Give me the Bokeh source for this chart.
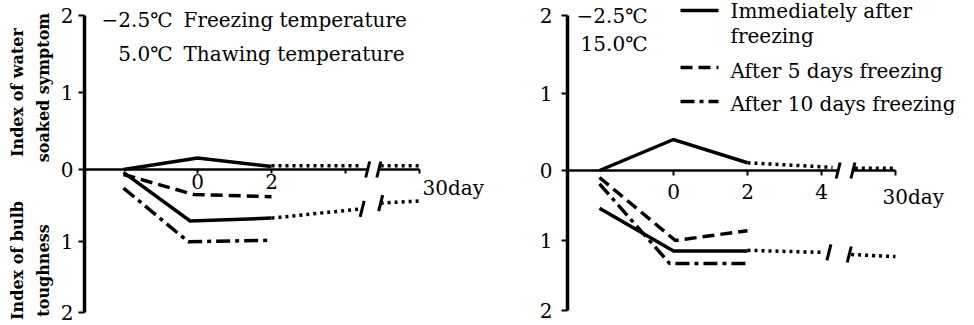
import math
from bokeh.plotting import figure
from bokeh.models import LinearAxis, FixedTicker, Label, Range1d
from bokeh.layouts import row
from bokeh.embed import file_html
from bokeh.resources import INLINE

# ---------------------------------------------------------------- data
# x: days after thawing; day 30 is drawn at position 6, beyond the axis break.
# Water-soaked index is plotted upward, bulb toughness index downward
# (toughness uses its own, inverted y range).
soak_ticks = [0, 1, 2]
tough_ticks = [1, 2]
DAY30_POS = 6

# Left panel: -2.5 C freezing, 5.0 C thawing
left_tick_days = [0, 2, 4]
left_tick_labels = ["0", "2", ""]
left_soak_imm_x = [-2, 0, 2]
left_soak_imm_y = [0.0, 0.15, 0.04]
left_soak_tail1_x = [2, 4.45]
left_soak_tail1_y = [0.05, 0.05]
left_soak_tail2_x = [4.95, 6]
left_soak_tail2_y = [0.05, 0.05]
left_tough_imm_x = [-2, -0.2, 2]
left_tough_imm_y = [0.04, 0.72, 0.68]
left_tough_tail1_x = [2, 4.45]
left_tough_tail1_y = [0.68, 0.55]
left_tough_tail2_x = [4.95, 6]
left_tough_tail2_y = [0.47, 0.44]
left_tough_5d_x = [-2, -0.1, 2]
left_tough_5d_y = [0.07, 0.35, 0.38]
left_tough_10d_x = [-2, -0.25, 2]
left_tough_10d_y = [0.26, 1.01, 0.99]

# Right panel: -2.5 C freezing, 15.0 C thawing
right_tick_days = [0, 2, 4]
right_tick_labels = ["0", "2", "4"]
right_soak_imm_x = [-2, 0, 2]
right_soak_imm_y = [0.0, 0.40, 0.10]
right_soak_tail1_x = [2, 4.3]
right_soak_tail1_y = [0.10, 0.04]
right_soak_tail2_x = [4.9, 6]
right_soak_tail2_y = [0.03, 0.03]
right_tough_imm_x = [-2, 0, 2]
right_tough_imm_y = [0.54, 1.15, 1.15]
right_tough_tail1_x = [2, 4.0]
right_tough_tail1_y = [1.14, 1.17]
right_tough_tail2_x = [4.8, 6]
right_tough_tail2_y = [1.20, 1.23]
right_tough_5d_x = [-2, 0.05, 2]
right_tough_5d_y = [0.10, 1.00, 0.86]
right_tough_10d_x = [-2, -0.1, 2]
right_tough_10d_y = [0.19, 1.33, 1.33]

# ---------------------------------------------------------------- layout
W, H = 487, 325
PX_DAY = 37.0
FONT = "DejaVu Serif"
INK = "black"

SOLID = dict(line_width=3.5, line_color=INK, line_join="miter")
DOTTED = dict(line_width=3.5, line_color=INK, line_dash="3 4")
DASHED = dict(line_width=3.5, line_color=INK, line_dash="12 6")
DASHDOT = dict(line_width=3.5, line_color=INK, line_dash="14 5 4 5")


def make_panel(zero_px, zero_py, up_px, down_px, yaxis_px, breaks, tick_days,
               tick_labels, xtick_out, xlab_standoff, ylab_standoff):
    p = figure(width=W, height=H,
               x_range=Range1d(-zero_px / PX_DAY, (W - zero_px) / PX_DAY),
               y_range=Range1d(-(H - zero_py) / up_px, zero_py / up_px),
               x_axis_type=None, y_axis_type=None,
               toolbar_location=None, output_backend="svg", min_border=0,
               outline_line_color=None, background_fill_color="white",
               border_fill_color="white")
    # toughness grows downward from the same zero line
    p.extra_y_ranges = {"tough": Range1d((H - zero_py) / down_px, -zero_py / down_px)}
    yaxis_x = (yaxis_px - zero_px) / PX_DAY
    common = dict(axis_line_color=INK, major_tick_line_color=INK,
                  minor_tick_line_color=None, major_tick_in=0,
                  major_label_text_font=FONT, major_label_text_font_size="20px",
                  major_label_text_color=INK)
    yax_up = LinearAxis(fixed_location=yaxis_x, bounds=(0, 2),
                        ticker=FixedTicker(ticks=soak_ticks),
                        axis_line_width=3.5, major_tick_line_width=2,
                        major_tick_out=6, major_label_standoff=ylab_standoff, **common)
    p.add_layout(yax_up, "left")
    yax_dn = LinearAxis(y_range_name="tough", fixed_location=yaxis_x, bounds=(0, 2),
                        ticker=FixedTicker(ticks=tough_ticks),
                        axis_line_width=3.5, major_tick_line_width=2,
                        major_tick_out=6, major_label_standoff=ylab_standoff, **common)
    p.add_layout(yax_dn, "left")
    xa = LinearAxis(fixed_location=0, bounds=(yaxis_x, breaks[0]),
                    ticker=FixedTicker(ticks=tick_days),
                    major_label_overrides=dict(zip(tick_days, tick_labels)),
                    axis_line_width=2.5, major_tick_line_width=2,
                    major_tick_out=xtick_out, major_label_standoff=xlab_standoff, **common)
    p.add_layout(xa, "below")
    xb = LinearAxis(fixed_location=0, bounds=(breaks[1], DAY30_POS),
                    ticker=FixedTicker(ticks=[DAY30_POS]),
                    major_label_overrides={DAY30_POS: ""},
                    axis_line_width=2.5, major_tick_line_width=2,
                    major_tick_out=xtick_out, major_label_standoff=xlab_standoff, **common)
    p.add_layout(xb, "below")
    return p


def slashes(p, xs, ys, half_h, range_name="default"):
    hw = 2.0 / PX_DAY
    p.segment(x0=[x - hw for x in xs], y0=[y - half_h for y in ys],
              x1=[x + hw for x in xs], y1=[y + half_h for y in ys],
              line_width=3, line_color=INK, y_range_name=range_name)


def text(p, px, py, s, align="left", size="20px", style="normal", angle=0.0):
    p.add_layout(Label(x=px, y=H - py, x_units="screen", y_units="screen",
                       text=s, text_font=FONT, text_font_size=size,
                       text_font_style=style, text_color=INK, text_align=align,
                       text_baseline="middle", angle=angle))


def day30_label(p, dx, dy):
    p.add_layout(Label(x=DAY30_POS, y=0, x_offset=dx, y_offset=dy, text="30day",
                       text_font=FONT, text_font_size="20px", text_color=INK,
                       text_align="left", text_baseline="top"))


# ---------------------------------------------------------------- left panel
L_ZERO, L_ZERO_PY, L_UP, L_DOWN = 197, 169, 77.0, 71.5
left = make_panel(L_ZERO, L_ZERO_PY, L_UP, L_DOWN, 84, (4.6, 4.9),
                  left_tick_days, left_tick_labels,
                  xtick_out=4, xlab_standoff=0, ylab_standoff=5)
left.line(left_soak_imm_x, left_soak_imm_y, **SOLID)
left.line(left_soak_tail1_x, left_soak_tail1_y, **DOTTED)
left.line(left_soak_tail2_x, left_soak_tail2_y, **DOTTED)
left.line(left_tough_imm_x, left_tough_imm_y, y_range_name="tough", **SOLID)
left.line(left_tough_tail1_x, left_tough_tail1_y, y_range_name="tough", **DOTTED)
left.line(left_tough_tail2_x, left_tough_tail2_y, y_range_name="tough", **DOTTED)
left.line(left_tough_5d_x, left_tough_5d_y, y_range_name="tough", **DASHED)
left.line(left_tough_10d_x, left_tough_10d_y, y_range_name="tough", **DASHDOT)
slashes(left, [4.6, 4.9], [0, 0], 8.0 / L_UP)
slashes(left, [left_tough_tail1_x[-1], left_tough_tail2_x[0]],
        [left_tough_tail1_y[-1], left_tough_tail2_y[0]], -8.0 / L_DOWN, "tough")
day30_label(left, 3, -6)
text(left, 17, 92, "Index of water", align="center", size="16px", style="bold", angle=math.pi / 2)
text(left, 43, 87, "soaked symptom", align="center", size="16px", style="bold", angle=math.pi / 2)
text(left, 17, 260, "Index of bulb", align="center", size="16px", style="bold", angle=math.pi / 2)
text(left, 43, 270, "toughness", align="center", size="16px", style="bold", angle=math.pi / 2)
text(left, 172, 19, "\u22122.5\u2103", align="right")
text(left, 183, 19, "Freezing temperature")
text(left, 172, 53, "5.0\u2103", align="right")
text(left, 183, 53, "Thawing temperature")

# ---------------------------------------------------------------- right panel
R_ZERO, R_ZERO_PY, R_UP, R_DOWN = 186, 170, 77.5, 70.0
right = make_panel(R_ZERO, R_ZERO_PY, R_UP, R_DOWN, 80, (4.45, 4.85),
                   right_tick_days, right_tick_labels,
                   xtick_out=5, xlab_standoff=8, ylab_standoff=9)
right.line(right_soak_imm_x, right_soak_imm_y, **SOLID)
right.line(right_soak_tail1_x, right_soak_tail1_y, **DOTTED)
right.line(right_soak_tail2_x, right_soak_tail2_y, **DOTTED)
right.line(right_tough_imm_x, right_tough_imm_y, y_range_name="tough", **SOLID)
right.line(right_tough_tail1_x, right_tough_tail1_y, y_range_name="tough", **DOTTED)
right.line(right_tough_tail2_x, right_tough_tail2_y, y_range_name="tough", **DOTTED)
right.line(right_tough_5d_x, right_tough_5d_y, y_range_name="tough", **DASHED)
right.line(right_tough_10d_x, right_tough_10d_y, y_range_name="tough", **DASHDOT)
slashes(right, [4.45, 4.85], [0, 0], 8.0 / R_UP)
slashes(right, [right_tough_tail1_x[-1] + 0.2, right_tough_tail2_x[0] - 0.05],
        [right_tough_tail1_y[-1], right_tough_tail2_y[0]], -8.0 / R_DOWN, "tough")
day30_label(right, -13, -14)
text(right, 160, 15, "\u22122.5\u2103", align="right")
text(right, 160, 43, "15.0\u2103", align="right")


def rx(px):
    return (px - R_ZERO) / PX_DAY


def ry(py):
    return (R_ZERO_PY - py) / R_UP


# legend samples and labels
right.line([rx(193), rx(231)], [ry(10), ry(10)], **SOLID)
right.line([rx(193), rx(231)], [ry(67), ry(67)], **DASHED)
right.line([rx(193), rx(231)], [ry(101), ry(101)], **DASHDOT)
text(right, 243, 10, "Immediately after")
text(right, 243, 35, "freezing")
text(right, 243, 70, "After 5 days freezing")
text(right, 243, 103, "After 10 days freezing")

layout = row(left, right)
open("out.html", "w").write(file_html(layout, INLINE))
